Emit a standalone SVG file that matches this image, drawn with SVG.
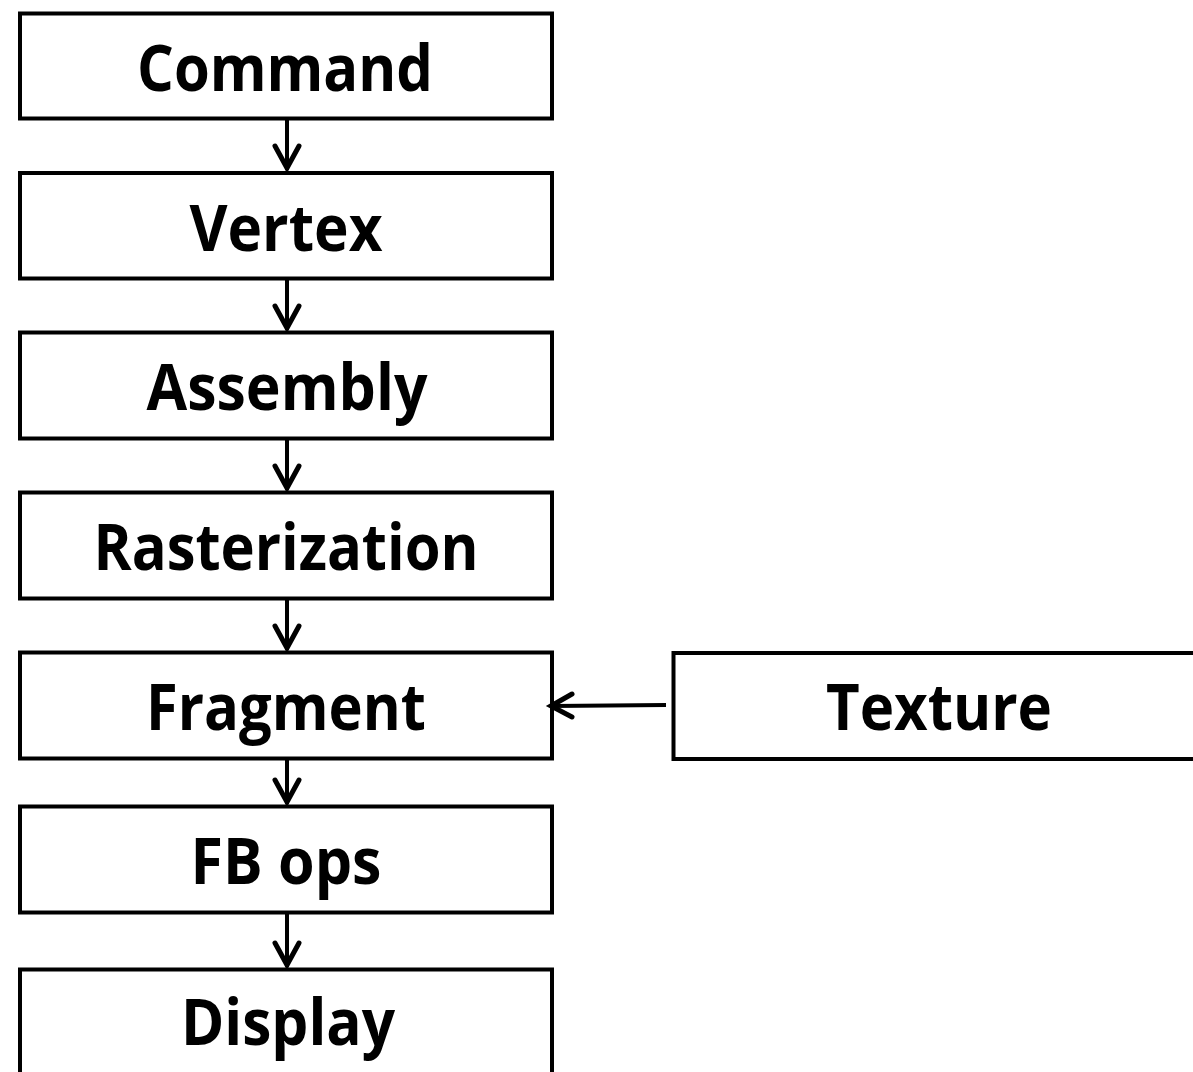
<svg xmlns="http://www.w3.org/2000/svg" width="1193" height="1072" viewBox="0 0 1193 1072">
<style>
.box{fill:#fff;stroke:#000;stroke-width:4}
.lbl{font-family:"Open Sans","Noto Sans","Liberation Sans",sans-serif;font-weight:bold;font-size:65px;fill:#000;text-anchor:middle}
.edge{stroke:#000;stroke-width:4;fill:none}
.head{stroke:#000;stroke-width:5;fill:none;stroke-linecap:round;stroke-linejoin:miter}
</style>
<rect width="1193" height="1072" fill="#fff"/>
<g id="command"><rect class="box" x="20" y="13.5" width="532" height="105"/><text class="lbl" x="285" y="91" textLength="296" lengthAdjust="spacingAndGlyphs">Command</text></g>
<g id="vertex"><rect class="box" x="20" y="173" width="532" height="105.5"/><text class="lbl" x="286" y="251" textLength="193" lengthAdjust="spacingAndGlyphs">Vertex</text></g>
<g id="assembly"><rect class="box" x="20" y="332.5" width="532" height="106"/><text class="lbl" x="287" y="410" textLength="281" lengthAdjust="spacingAndGlyphs">Assembly</text></g>
<g id="rasterization"><rect class="box" x="20" y="492.5" width="532" height="106"/><text class="lbl" x="286" y="570" textLength="385" lengthAdjust="spacingAndGlyphs">Rasterization</text></g>
<g id="fragment"><rect class="box" x="20" y="652.5" width="532" height="106"/><text class="lbl" x="286" y="730" textLength="280" lengthAdjust="spacingAndGlyphs">Fragment</text></g>
<g id="fbops"><rect class="box" x="20" y="806.5" width="532" height="106"/><text class="lbl" x="286" y="884" textLength="191" lengthAdjust="spacingAndGlyphs">FB ops</text></g>
<g id="display"><rect class="box" x="20" y="969.5" width="532" height="106"/><text class="lbl" x="288" y="1045" textLength="214" lengthAdjust="spacingAndGlyphs">Display</text></g>
<g id="texture"><rect class="box" x="673.5" y="653" width="540" height="106"/><text class="lbl" x="939" y="730" textLength="226" lengthAdjust="spacingAndGlyphs">Texture</text></g>
<g id="connectors">
<line class="edge" x1="287" y1="118.5" x2="287" y2="170"/><polyline class="head" points="275,146 287,168 299,146"/>
<line class="edge" x1="287" y1="278.5" x2="287" y2="330"/><polyline class="head" points="275,306 287,328 299,306"/>
<line class="edge" x1="287" y1="438.5" x2="287" y2="490"/><polyline class="head" points="275,466 287,488 299,466"/>
<line class="edge" x1="287" y1="598.5" x2="287" y2="650"/><polyline class="head" points="275,626 287,648 299,626"/>
<line class="edge" x1="287" y1="758.5" x2="287" y2="804"/><polyline class="head" points="275,780 287,802 299,780"/>
<line class="edge" x1="287" y1="912.5" x2="287" y2="967"/><polyline class="head" points="275,943 287,965 299,943"/>
<line class="edge" x1="666" y1="705" x2="552" y2="706"/><polyline class="head" points="572,694 551,706 572,717"/>
</g>
</svg>
